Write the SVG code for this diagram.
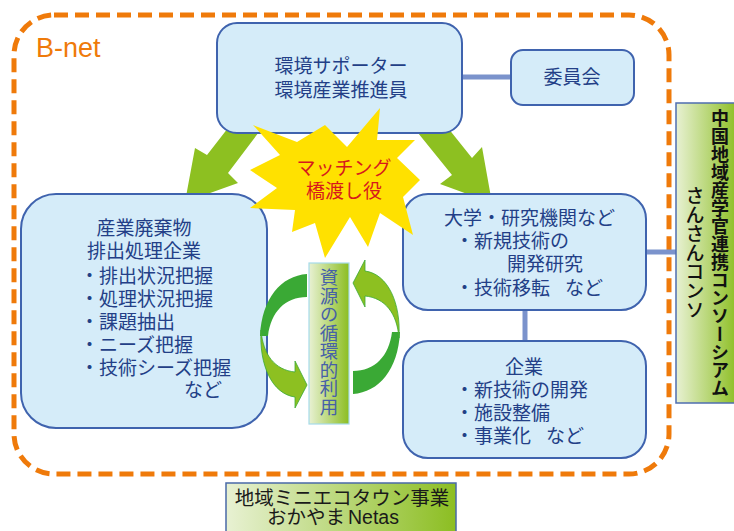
<svg xmlns="http://www.w3.org/2000/svg" width="734" height="531" viewBox="0 0 734 531">
<defs>
<style>
.jp{font-family:"Noto Sans CJK JP","Noto Sans CJK SC",sans-serif;}
.box{fill:#d5ecf9;stroke:#3f63ae;stroke-width:2;}
.bt{font-size:19px;fill:#233f87;}
.conn{stroke:#7b93cc;stroke-width:5;fill:none;}
.garrow{fill:#8dc021;}
.dark{fill:#3aa935;}
.light{fill:#8dc021;stroke:#3aa935;stroke-width:0.8;}
</style>
<linearGradient id="gg" x1="0" y1="0" x2="1" y2="0">
<stop offset="0" stop-color="#e8f1d3"/>
<stop offset="1" stop-color="#8cbe22"/>
</linearGradient>
</defs>
<rect width="734" height="531" fill="#ffffff"/>

<g id="bnet">
<rect x="14" y="15" width="655" height="459" rx="40" ry="40" fill="none" stroke="#ef7a0a" stroke-width="5" stroke-dasharray="14 7"/>
<text x="36" y="57" font-family="'Liberation Sans',Arial,sans-serif" font-size="27" fill="#ef7a0a">B-net</text>
</g>

<g id="connectors">
<line class="conn" x1="460" y1="77" x2="513" y2="77"/>
<line class="conn" x1="525" y1="308" x2="525" y2="343"/>
<line class="conn" x1="644" y1="252" x2="677" y2="252"/>
<polygon class="garrow" points="228,128 207,155 195,148 185,202 238,183 228,173 262,128"/>
<polygon class="garrow" points="414,128 452,175 440,184 492,203 482,147 472,158 448,128"/>
</g>

<g id="supporter">
<rect class="box" x="217" y="23" width="245" height="110" rx="20"/>
<text class="jp bt" x="341" y="73" text-anchor="middle">環境サポーター</text>
<text class="jp bt" x="341" y="97" text-anchor="middle">環境産業推進員</text>
</g>

<g id="iinkai">
<rect class="box" x="511" y="50" width="123" height="55" rx="12"/>
<text class="jp bt" x="572" y="84" text-anchor="middle">委員会</text>
</g>

<g id="kigyo-left">
<rect class="box" x="21" y="194" width="246" height="234" rx="35"/>
<text class="jp bt" x="144" y="235" text-anchor="middle">産業廃棄物</text>
<text class="jp bt" x="144" y="258" text-anchor="middle">排出処理企業</text>
<text class="jp bt" x="80" y="283">・排出状況把握</text>
<text class="jp bt" x="80" y="306">・処理状況把握</text>
<text class="jp bt" x="80" y="329">・課題抽出</text>
<text class="jp bt" x="80" y="352">・ニーズ把握</text>
<text class="jp bt" x="80" y="375">・技術シーズ把握</text>
<text class="jp bt" x="184" y="397">など</text>
</g>

<g id="daigaku">
<rect class="box" x="403" y="194" width="243" height="116" rx="25"/>
<text class="jp bt" x="444" y="225">大学・研究機関など</text>
<text class="jp bt" x="455" y="248">・新規技術の</text>
<text class="jp bt" x="507" y="271">開発研究</text>
<text class="jp bt" x="455" y="295">・技術移転<tspan x="565">など</tspan></text>
</g>

<g id="kigyo-right">
<rect class="box" x="403" y="341" width="243" height="117" rx="25"/>
<text class="jp bt" x="524" y="374" text-anchor="middle">企業</text>
<text class="jp bt" x="455" y="397">・新技術の開発</text>
<text class="jp bt" x="455" y="420">・施設整備</text>
<text class="jp bt" x="455" y="443">・事業化<tspan x="546">など</tspan></text>
</g>

<g id="matching">
<polygon fill="#ffe100" points="253,125 297,142 325,125 347,147 380,108 377,140 415,140 397,158 420,180 403,197 413,235 380,213 368,247 350,217 325,258 315,223 292,232 295,210 250,208 277,188 250,170 280,155"/>
<text class="jp" x="344" y="175" text-anchor="middle" font-size="19" fill="#d7191c">マッチング</text>
<text class="jp" x="344" y="198" text-anchor="middle" font-size="19" fill="#d7191c">橋渡し役</text>
</g>

<g id="cycle-left">
<path class="dark" d="M307,274 C281,276 262,298 260,336 L268,336 C271,312 285,297 307,297 Z"/>
<path class="light" d="M261,330 C263,355 275,370 295,372 L295,361 L307,385 L295,408 L295,397 C272,394 259,365 261,330 Z"/>
</g>
<g id="cycle-right" transform="rotate(180 330 334)">
<path class="dark" d="M307,274 C281,276 262,298 260,336 L268,336 C271,312 285,297 307,297 Z"/>
<path class="light" d="M261,330 C263,355 275,370 295,372 L295,361 L307,385 L295,408 L295,397 C272,394 259,365 261,330 Z"/>
</g>

<g id="junkan">
<rect x="309" y="263" width="40" height="161" fill="url(#gg)" stroke="#a6dbe9" stroke-width="1.2"/>
<text class="jp" x="329" y="342" text-anchor="middle" font-size="18.5" fill="#4660a8" style="writing-mode:vertical-rl">資源の循環的利用</text>
</g>

<g id="consortium">
<rect x="676" y="103" width="62" height="300" fill="url(#gg)" stroke="#4f6eb0" stroke-width="1.5"/>
<text class="jp" x="720" y="253" text-anchor="middle" font-size="18" font-weight="bold" fill="#111" style="writing-mode:vertical-rl">中国地域産学官連携コンソーシアム</text>
<text class="jp" x="695" y="253" text-anchor="middle" font-size="19" font-weight="500" fill="#111" style="writing-mode:vertical-rl">さんさんコンソ</text>
</g>

<g id="ecotown">
<rect x="226" y="483" width="230" height="60" fill="url(#gg)" stroke="#4a6aa8" stroke-width="1.5"/>
<text class="jp" x="342" y="505" text-anchor="middle" font-size="19.5" fill="#1a1a1a">地域ミニエコタウン事業</text>
<text class="jp" x="267" y="524" font-size="19.5" fill="#1a1a1a">おかやま<tspan x="348" font-family="'Liberation Sans',Arial,sans-serif">Netas</tspan></text>
</g>
</svg>
